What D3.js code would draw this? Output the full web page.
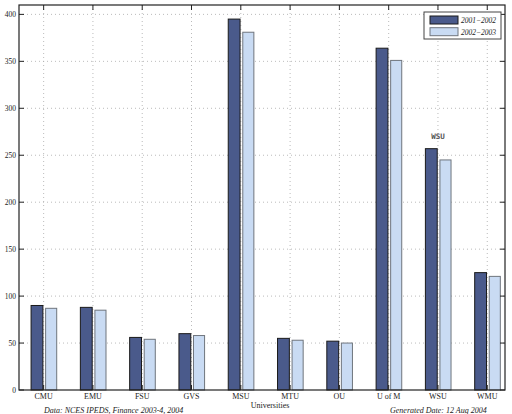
<!DOCTYPE html>
<html><head><meta charset="utf-8">
<script src="https://cdn.jsdelivr.net/npm/d3@7/dist/d3.min.js"></script>
<style>body{margin:0;background:#fff;}svg{display:block;}</style>
</head><body>
<script>
const categories = ["CMU","EMU","FSU","GVS","MSU","MTU","OU","U of M","WSU","WMU"];
const series1 = [90, 88, 56, 60, 395, 55, 52, 364, 257, 125];
const series2 = [87, 85, 54, 58, 381, 53, 50, 351, 245, 121];
const seriesNames = ["2001\u22122002", "2002\u22122003"];
const yTicks = [0, 50, 100, 150, 200, 250, 300, 350, 400];
const annotation = {cat: 9, value: 270, text: "WSU"};

const W = 512, H = 414;
const svg = d3.select("body").append("svg").attr("width", W).attr("height", H);
const L = 19, R = 505, T = 5, B = 390;
const x = d3.scaleLinear().domain([0.5, 10.36]).range([L, R]);
const y = d3.scaleLinear().domain([0, 410]).range([B, T]);
const colors = ["#4a5a8b", "#c9dbf3"];
const strokes = ["#1a1a1a", "#6f757d"];

// grid
const g = svg.append("g");
g.selectAll(".vg").data(categories).enter().append("line")
  .attr("x1", (d,i)=>x(i+1)).attr("x2", (d,i)=>x(i+1)).attr("y1", T).attr("y2", B)
  .attr("stroke", "#aaa").attr("stroke-width", 0.8).attr("stroke-dasharray", "1,3");
g.selectAll(".hg").data(yTicks.filter(v=>v>0)).enter().append("line")
  .attr("x1", L).attr("x2", R).attr("y1", d=>y(d)).attr("y2", d=>y(d))
  .attr("stroke", "#aaa").attr("stroke-width", 0.8).attr("stroke-dasharray", "1,3");

// bars
const offs = [[-0.255, -0.015], [0.04, 0.265]];
[series1, series2].forEach((s, k) => {
  svg.append("g").selectAll("rect").data(s).enter().append("rect")
    .attr("x", (d,i)=>x(i+1+offs[k][0]))
    .attr("width", (d,i)=>x(i+1+offs[k][1]) - x(i+1+offs[k][0]))
    .attr("y", d=>y(d)).attr("height", d=>y(0)-y(d))
    .attr("fill", colors[k]).attr("stroke", strokes[k]).attr("stroke-width", 1);
});

// axes frame
svg.append("rect").attr("x", L).attr("y", T).attr("width", R-L).attr("height", B-T)
  .attr("fill", "none").attr("stroke", "#222").attr("stroke-width", 1.2);

// ticks inward
const tk = svg.append("g").attr("stroke", "#222").attr("stroke-width", 1);
yTicks.forEach(v => {
  tk.append("line").attr("x1", L).attr("x2", L+5).attr("y1", y(v)).attr("y2", y(v));
  tk.append("line").attr("x1", R).attr("x2", R-5).attr("y1", y(v)).attr("y2", y(v));
});
categories.forEach((c,i) => {
  tk.append("line").attr("x1", x(i+1)).attr("x2", x(i+1)).attr("y1", T).attr("y2", T+5);
  tk.append("line").attr("x1", x(i+1)).attr("x2", x(i+1)).attr("y1", B).attr("y2", B-5);
});

// y tick labels
svg.append("g").selectAll("text").data(yTicks).enter().append("text")
  .attr("x", L-3).attr("y", d=>y(d)+2.5).attr("text-anchor", "end")
  .attr("font-family", "Liberation Serif, serif").attr("font-size", 7.5).attr("fill", "#222")
  .text(d=>d);

// x tick labels
svg.append("g").selectAll("text").data(categories).enter().append("text")
  .attr("x", (d,i)=>x(i+1)).attr("y", 399).attr("text-anchor", "middle")
  .attr("font-family", "Liberation Serif, serif").attr("font-size", 8).attr("fill", "#222")
  .text(d=>d);

svg.append("text").attr("x", 270).attr("y", 407.5).attr("text-anchor", "middle")
  .attr("font-family", "Liberation Serif, serif").attr("font-size", 8).attr("fill", "#222")
  .text("Universities");
svg.append("text").attr("x", 44).attr("y", 412.5)
  .attr("font-family", "Liberation Serif, serif").attr("font-size", 8).attr("font-style", "italic").attr("fill", "#222")
  .text("Data: NCES IPEDS, Finance 2003-4, 2004");
svg.append("text").attr("x", 390).attr("y", 412.5)
  .attr("font-family", "Liberation Serif, serif").attr("font-size", 8).attr("font-style", "italic").attr("fill", "#222")
  .text("Generated Date: 12 Aug 2004");

// annotation
svg.append("text").attr("x", x(annotation.cat+0.0)).attr("y", y(annotation.value)+2.5)
  .attr("text-anchor", "middle").attr("font-family", "DejaVu Sans Mono, monospace")
  .attr("font-size", 7.5).attr("font-weight", "bold").attr("fill", "#555")
  .text(annotation.text);

// legend
const lg = svg.append("g");
lg.append("rect").attr("x", 424).attr("y", 12).attr("width", 77).attr("height", 27)
  .attr("fill", "#fff").attr("stroke", "#444").attr("stroke-width", 1);
seriesNames.forEach((n,k) => {
  lg.append("rect").attr("x", 430).attr("y", 16 + k*11.7).attr("width", 28).attr("height", 8)
    .attr("fill", colors[k]).attr("stroke", strokes[k]).attr("stroke-width", 1);
  lg.append("text").attr("x", 461).attr("y", 23 + k*11.7)
    .attr("font-family", "Liberation Serif, serif").attr("font-size", 7.5).attr("font-style", "italic").attr("fill", "#222")
    .text(n);
});
</script>
</body></html>
